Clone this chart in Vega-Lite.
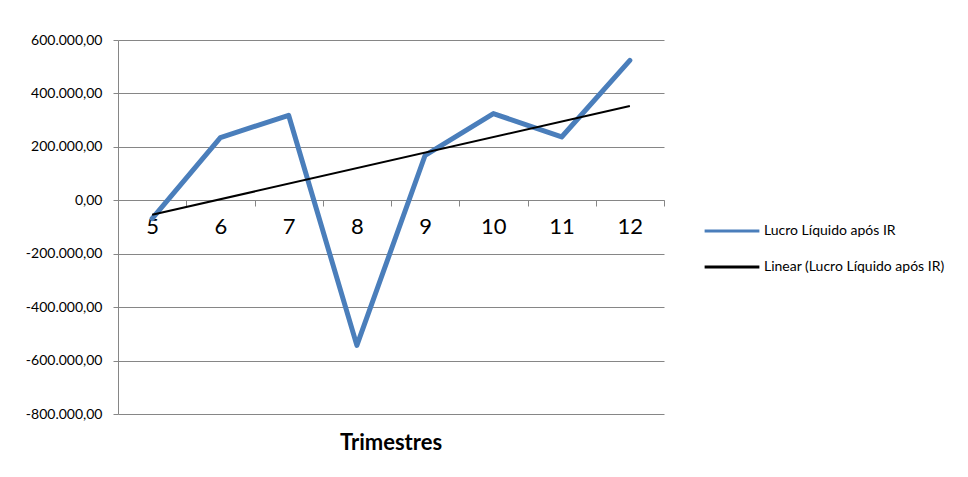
{
  "$schema": "https://vega.github.io/schema/vega-lite/v6.json",
  "autosize": "none",
  "width": 546,
  "height": 374,
  "padding": {"left": 118, "top": 40, "right": 304, "bottom": 63},
  "background": "white",
  "config": {
    "view": {"stroke": null},
    "font": "Lato",
    "locale": {
      "number": {"decimal": ",", "thousands": ".", "grouping": [3], "currency": ["R$", ""], "minus": "-"}
    }
  },
  "title": {
    "text": "Trimestres",
    "orient": "bottom",
    "anchor": "middle",
    "font": "Lato",
    "fontSize": 22,
    "fontWeight": "bold",
    "color": "#000000",
    "offset": 12
  },
  "data": {
    "values": [
      {"trimestre": 5, "valor": -68500},
      {"trimestre": 6, "valor": 234800},
      {"trimestre": 7, "valor": 318000},
      {"trimestre": 8, "valor": -543000},
      {"trimestre": 9, "valor": 168500},
      {"trimestre": 10, "valor": 324700},
      {"trimestre": 11, "valor": 237000},
      {"trimestre": 12, "valor": 524000}
    ]
  },
  "encoding": {
    "x": {
      "field": "trimestre",
      "type": "ordinal",
      "bandPosition": 0.5,
      "scale": {"type": "band", "paddingInner": 0, "paddingOuter": 0},
      "axis": {
        "title": null,
        "orient": "bottom",
        "offset": -214,
        "labelAngle": 0,
        "labelFont": "Lato",
        "labelFontSize": 22,
        "labelColor": "#000000",
        "labelPadding": 10,
        "tickBand": "extent",
        "tickSize": 6,
        "tickColor": "#868686",
        "domainColor": "#868686",
        "grid": false,
        "zindex": 0
      }
    },
    "y": {
      "field": "valor",
      "type": "quantitative",
      "scale": {"domain": [-800000, 600000], "nice": false, "zero": false},
      "axis": {
        "title": null,
        "values": [-800000, -600000, -400000, -200000, 0, 200000, 400000, 600000],
        "format": ",.2f",
        "labelFont": "Lato",
        "labelFontSize": 14,
        "labelColor": "#000000",
        "labelPadding": 11,
        "tickSize": 5,
        "tickColor": "#868686",
        "domainColor": "#868686",
        "grid": true,
        "gridColor": "#868686",
        "gridOpacity": 1,
        "zindex": 0
      }
    }
  },
  "layer": [
    {
      "mark": {"type": "line", "strokeWidth": 5, "strokeCap": "round", "strokeJoin": "round"},
      "encoding": {
        "color": {
          "datum": "Lucro Líquido após IR",
          "type": "nominal",
          "scale": {
            "domain": ["Lucro Líquido após IR", "Linear (Lucro Líquido após IR)"],
            "range": ["#4a7ebb", "#000000"]
          },
          "legend": {
            "title": null,
            "orient": "none",
            "legendX": 585,
            "legendY": 162,
            "padding": 0,
            "symbolType": "stroke",
            "symbolSize": 3000,
            "symbolStrokeWidth": 3,
            "labelFont": "Lato",
            "labelFontSize": 14,
            "labelColor": "#000000",
            "labelOffset": 3,
            "labelLimit": 300,
            "rowPadding": 0
          }
        }
      }
    },
    {
      "transform": [{"regression": "valor", "on": "trimestre"}],
      "mark": {"type": "line", "strokeWidth": 2},
      "encoding": {
        "color": {"datum": "Linear (Lucro Líquido após IR)", "type": "nominal"}
      }
    }
  ],
  "resolve": {"scale": {"color": "shared"}}
}
